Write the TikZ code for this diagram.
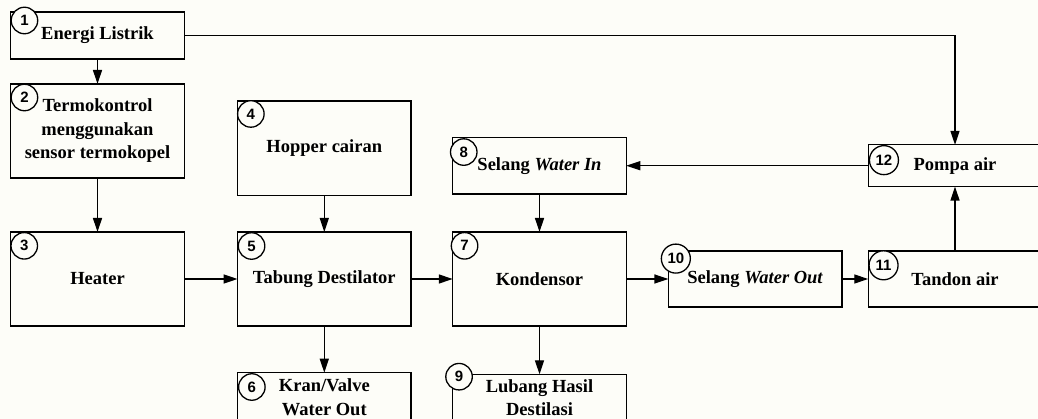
\documentclass[tikz,border=0pt]{standalone}
\usepackage{fontspec}
\setmainfont{Liberation Serif}
\newfontfamily\numfont{Liberation Sans}
\usepackage{tikz}
\usetikzlibrary{arrows.meta}
\definecolor{paper}{RGB}{253,253,248}

\begin{document}
\begin{tikzpicture}[x=1pt,y=-1pt,
    box/.style={draw,line width=1.3pt,outer sep=0pt,inner sep=0pt,minimum width=173.5pt,
      align=center,font=\bfseries\fontsize{18.5}{23.5}\selectfont},
    num/.style={circle,draw,fill=paper,line width=1.3pt,minimum size=26.5pt,inner sep=0pt,
      font=\numfont\bfseries\fontsize{15}{15}\selectfont},
    flow/.style={line width=1.3pt,-{Triangle[length=14pt,width=9pt]}}]
  \fill[paper] (0,0) rectangle (1038,419);
  \useasboundingbox (0,0) rectangle (1038,419);

  \node[box,minimum height=47pt] (listrik) at (97.5,35.5) {Energi Listrik};
  \node[box,minimum height=94pt] (termo) at (97.5,131) {Termokontrol\\ menggunakan\\ sensor termokopel};
  \node[box,minimum height=94pt] (heater) at (97.5,279) {Heater};
  \node[box,minimum height=94.5pt] (hopper) at (324.3,148.2) {Hopper cairan};
  \node[box,minimum height=94pt] (tabung) at (324.3,279) {Tabung Destilator};
  \node[box,minimum height=48.8pt] (kran) at (324.3,397.1) {Kran/Valve\\ Water Out};
  \node[box,minimum height=94pt] (kondensor) at (539.5,279) {Kondensor};
  \node[box,minimum height=56.7pt] (selangin) at (539.5,165.7) {Selang \textit{Water In}};
  \node[box,minimum height=47.2pt] (lubang) at (539.5,397.9) {Lubang Hasil\\ Destilasi};
  \node[box,minimum height=56pt] (selangout) at (755.2,279) {Selang \textit{Water Out}};
  \node[box,minimum height=56pt] (tandon) at (955,279) {Tandon air};
  \node[box,minimum height=41.7pt] (pompa) at (955,165.7) {Pompa air};

  \node[num] (n1) at ([shift={(13.7,8.5)}]listrik.north west) {1};
  \node[num] (n2) at ([shift={(13.7,13.5)}]termo.north west) {2};
  \node[num] (n3) at ([shift={(13.5,13.8)}]heater.north west) {3};
  \node[num] (n4) at ([shift={(13.3,13)}]hopper.north west) {4};
  \node[num] (n5) at ([shift={(14,14)}]tabung.north west) {5};
  \node[num] (n6) at ([shift={(14.3,14.3)}]kran.north west) {6};
  \node[num] (n7) at ([shift={(11.8,13.8)}]kondensor.north west) {7};
  \node[num] (n8) at ([shift={(11,14.7)}]selangin.north west) {8};
  \node[num] (n9) at ([shift={(6.3,2.4)}]lubang.north west) {9};
  \node[num,minimum size=29pt] (n10) at ([shift={(7.4,7.6)}]selangout.north west) {10};
  \node[num,minimum size=29pt] (n11) at ([shift={(15.3,14.3)}]tandon.north west) {11};
  \node[num,minimum size=29pt] (n12) at ([shift={(15.7,15.3)}]pompa.north west) {12};

  \draw[flow] (listrik) -- (termo);
  \draw[flow] (termo) -- (heater);
  \draw[flow] (heater) -- (tabung);
  \draw[flow] (hopper) -- (tabung);
  \draw[flow] (tabung) -- (kran);
  \draw[flow] (tabung) -- (kondensor);
  \draw[flow] (selangin) -- (kondensor);
  \draw[flow] (kondensor) -- (lubang);
  \draw[flow] (kondensor) -- (selangout);
  \draw[flow] (selangout) -- (tandon);
  \draw[flow] (tandon) -- (pompa);
  \draw[flow] (pompa) -- (selangin);
  \draw[flow] (listrik) -| (pompa);
\end{tikzpicture}
\end{document}
